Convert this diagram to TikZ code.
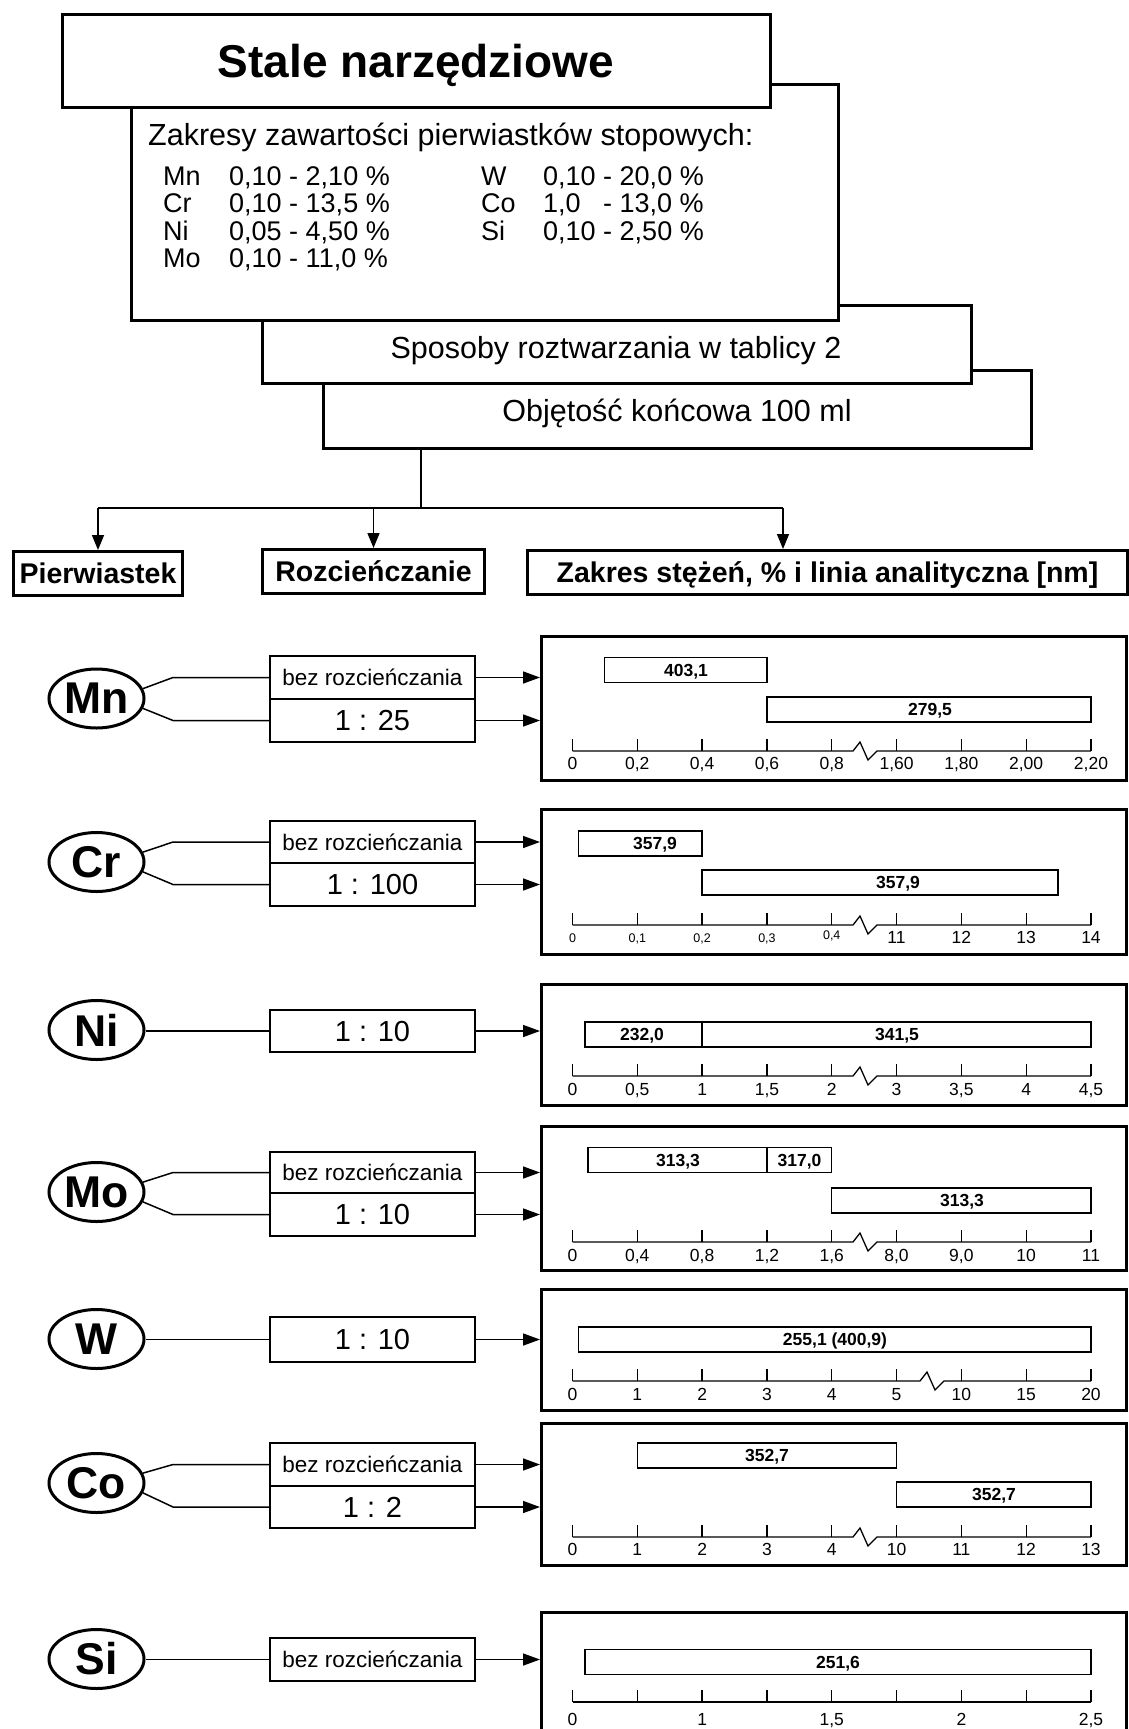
\documentclass[tikz,border=0pt]{standalone}
\usepackage{fontspec}
\setmainfont{Liberation Sans}
\usetikzlibrary{shapes.geometric,arrows.meta}

% font size in pt (1 unit = 1pt in this drawing)
\newcommand\fs[1]{\fontsize{#1}{#1}\selectfont}

% rectangle node given by its corners: style, name, x1, y1, x2, y2, text
\newcommand\rectnode[7]{%
  \node[#1, anchor=north west, minimum width={#5-#3}, minimum height={#6-#4}] (#2) at (#3,#4) {#7};}

% concentration bar: name, x1, x2, centre y, label x, label
\newcommand\rangebar[6]{%
  \draw[barline] (#2,#4-12.5) rectangle (#3,#4+12.5);
  \node[barlabel] (#1) at (#5,#4) {#6};}

% scale with a break mark: axis y, x where the break starts
\newcommand\brokenaxis[2]{%
  \draw[axisline] (572.5,#1) -- (#2,#1) -- ++(7,-9) -- ++(8,18) -- ++(9,-9) -- (1091,#1);
  \foreach \k in {0,...,8} {\draw[axisline] ({572.5+64.81*\k},#1) -- ++(0,-12);}}

% tick labels on all nine ticks: name prefix, baseline y, labels
\newcommand\ticklabels[3]{%
  \foreach \t [count=\i from 0] in {#3} {\node[ticklabel] (#1\i) at ({572.5+64.81*\i},#2) {\t};}}

\begin{document}
\begin{tikzpicture}[x=1pt,y=-1pt,
  every node/.style={inner sep=0pt},
  topbox/.style={draw, line width=2.5pt, fill=white},
  headbox/.style={draw, line width=3pt, font=\fs{28.5}\bfseries, text height=20.5pt, text depth=0pt},
  elem/.style={ellipse, draw, line width=3pt, minimum width=95pt, minimum height=59pt, font=\fs{44.5}\bfseries},
  dilbox/.style={draw, line width=2pt, fill=white},
  dilsmall/.style={dilbox, font=\fs{22.5}, text height=16pt, text depth=0pt},
  dilbig/.style={dilbox, font=\fs{29}, text height=20.8pt, text depth=0pt},
  chartbox/.style={draw, line width=3pt},
  conn/.style={line width=1.5pt},
  arr/.style={line width=1.5pt, -{Triangle[length=17pt,width=12pt]}},
  downarr/.style={line width=1.5pt, -{Triangle[length=15pt,width=12pt]}},
  barline/.style={line width=1.3pt},
  axisline/.style={line width=1.3pt},
  barlabel/.style={font=\fs{17.5}\bfseries, text height=12.5pt, text depth=0pt},
  ticklabel/.style={font=\fs{17.5}, anchor=base},
  ticksmall/.style={font=\fs{12.5}, anchor=base},
  listtext/.style={font=\fs{27}, anchor=base west},
  boxtext/.style={font=\fs{30.5}, anchor=base},
]
\path[use as bounding box, fill=white] (0,0) rectangle (1128,1729);

% ---- stacked header boxes (back to front) ----
\rectnode{topbox}{obj}{322}{369}{1030}{447}{}
\rectnode{topbox}{spo}{261}{304}{970}{382}{}
\rectnode{topbox}{zak}{130}{83}{837}{319}{}
\rectnode{topbox}{tit}{61}{13}{769}{106}{}

\node[font=\fs{46}\bfseries, anchor=base] (titT) at (416,77) {Stale narzędziowe};
\node[font=\fs{30.5}, anchor=base west] (zakT) at (148,145) {Zakresy zawartości pierwiastków stopowych:};
\node[listtext] (lMn) at (163,185) {Mn};
\node[listtext] (vMn) at (229,185) {0,10 - 2,10 \%};
\node[listtext] (lCr) at (163,212.5) {Cr};
\node[listtext] (vCr) at (229,212.5) {0,10 - 13,5 \%};
\node[listtext] (lNi) at (163,240) {Ni};
\node[listtext] (vNi) at (229,240) {0,05 - 4,50 \%};
\node[listtext] (lMo) at (163,267.5) {Mo};
\node[listtext] (vMo) at (229,267.5) {0,10 - 11,0 \%};
\node[listtext] (lW) at (481,185) {W};
\node[listtext] (vW) at (543,185) {0,10 - 20,0 \%};
\node[listtext] (lCo) at (481,212.5) {Co};
\node[listtext] (vCoa) at (543,212.5) {1,0};
\node[listtext] (vCob) at (603,212.5) {- 13,0 \%};
\node[listtext] (lSi) at (481,240) {Si};
\node[listtext] (vSi) at (543,240) {0,10 - 2,50 \%};

\node[boxtext] (spoT) at (616,358) {Sposoby roztwarzania w tablicy 2};
\node[boxtext] (objT) at (677,421) {Objętość końcowa 100 ml};

% ---- column headers ----
\rectnode{headbox}{pierH}{12}{550}{181}{594}{Pierwiastek}
\rectnode{headbox}{rozH}{261}{548}{483}{592}{Rozcieńczanie}
\rectnode{headbox}{zakH}{526}{549}{1126}{593}{Zakres stężeń, \% i linia analityczna [nm]}

\coordinate (hub) at (421,508);
\coordinate (zakTurn) at (783,508);
\draw[conn] (obj.south -| hub) -- (hub);
\draw[conn] (pierH.north |- hub) -- (zakTurn);
\draw[downarr] (pierH.north |- hub) -- (pierH.north);
\draw[downarr] (rozH.north |- hub) -- (rozH.north);
\draw[downarr] (zakTurn) -- (zakTurn |- zakH.north);

% ---- Mn ----
\node[elem] (mn) at (96.5,698.5) {Mn};
\rectnode{dilsmall}{mnA}{269}{655}{474}{698}{bez rozcieńczania}
\rectnode{dilbig}{mnB}{269}{698}{474}{741}{1 : 25}
\rectnode{chartbox}{mnC}{540}{635}{1125}{779}{}
\draw[conn] (mn.12) -- ([xshift=-96pt]mnA.west) -- (mnA.west);
\draw[conn] (mn.-12) -- ([xshift=-96pt]mnB.west) -- (mnB.west);
\draw[arr] (mnA.east) -- (mnA.east -| mnC.west);
\draw[arr] (mnB.east) -- (mnB.east -| mnC.west);
\rangebar{mnR1}{604.6}{767}{670}{686}{403,1}
\rangebar{mnR2}{767}{1091}{709.5}{930}{279,5}
\brokenaxis{751}{853}
\ticklabels{mnT}{769}{0,0{,}2,0{,}4,0{,}6,0{,}8,1{,}60,1{,}80,2{,}00,2{,}20}

% ---- Cr ----
\node[elem] (cr) at (96.5,862) {Cr};
\rectnode{dilsmall}{crA}{269}{820}{474}{862}{bez rozcieńczania}
\rectnode{dilbig}{crB}{269}{862}{474}{905}{1 : 100}
\rectnode{chartbox}{crC}{540}{808}{1125}{953}{}
\draw[conn] (cr.12) -- ([xshift=-96pt]crA.west) -- (crA.west);
\draw[conn] (cr.-12) -- ([xshift=-96pt]crB.west) -- (crB.west);
\draw[arr] (crA.east) -- (crA.east -| crC.west);
\draw[arr] (crB.east) -- (crB.east -| crC.west);
\rangebar{crR1}{578.5}{702.1}{843.5}{655}{357,9}
\rangebar{crR2}{702.1}{1058}{882.5}{898}{357,9}
\brokenaxis{925}{853}
\foreach \t [count=\i from 0] in {0,0{,}1,0{,}2,0{,}3}
  {\node[ticksmall] (crS\i) at ({572.5+64.81*\i},942) {\t};}
\node[ticksmall] (crS4) at ({572.5+64.81*4},939.5) {0,4};
\foreach \t [count=\i from 5] in {11,12,13,14}
  {\node[ticklabel] (crT\i) at ({572.5+64.81*\i},943.5) {\t};}

% ---- Ni ----
\node[elem] (ni) at (96.5,1030) {Ni};
\rectnode{dilbig}{niB}{269}{1009}{474}{1051}{1 : 10}
\rectnode{chartbox}{niC}{540}{983}{1125}{1104}{}
\draw[conn] (niB.west -| ni.east) -- (niB.west);
\draw[arr] (niB.east) -- (niB.east -| niC.west);
\rangebar{niR1}{585}{702.1}{1034.5}{642}{232,0}
\rangebar{niR2}{702.1}{1091}{1034.5}{897}{341,5}
\brokenaxis{1076}{853}
\ticklabels{niT}{1095}{0,0{,}5,1,1{,}5,2,3,3{,}5,4,4{,}5}

% ---- Mo ----
\node[elem] (mo) at (96.5,1192) {Mo};
\rectnode{dilsmall}{moA}{269}{1151}{474}{1192}{bez rozcieńczania}
\rectnode{dilbig}{moB}{269}{1192}{474}{1235}{1 : 10}
\rectnode{chartbox}{moC}{540}{1125}{1125}{1269}{}
\draw[conn] (mo.12) -- ([xshift=-96pt]moA.west) -- (moA.west);
\draw[conn] (mo.-12) -- ([xshift=-96pt]moB.west) -- (moB.west);
\draw[arr] (moA.east) -- (moA.east -| moC.west);
\draw[arr] (moB.east) -- (moB.east -| moC.west);
\rangebar{moR1}{588}{767}{1160}{678}{313,3}
\rangebar{moR2}{767}{831.7}{1160}{799.5}{317,0}
\rangebar{moR3}{831.7}{1091}{1200.5}{962}{313,3}
\brokenaxis{1242}{853}
\ticklabels{moT}{1261}{0,0{,}4,0{,}8,1{,}2,1{,}6,8{,}0,9{,}0,10,11}

% ---- W ----
\node[elem] (w) at (96.5,1339) {W};
\rectnode{dilbig}{wB}{269}{1316}{474}{1361}{1 : 10}
\rectnode{chartbox}{wC}{540}{1288}{1125}{1409}{}
\draw[conn] (wB.west -| w.east) -- (wB.west);
\draw[arr] (wB.east) -- (wB.east -| wC.west);
\rangebar{wR1}{578.5}{1091}{1339.5}{835}{255,1 (400,9)}
\brokenaxis{1381}{920}
\ticklabels{wT}{1400}{0,1,2,3,4,5,10,15,20}

% ---- Co ----
\node[elem] (co) at (96.5,1483) {Co};
\rectnode{dilsmall}{coA}{269}{1442}{474}{1485}{bez rozcieńczania}
\rectnode{dilbig}{coB}{269}{1485}{474}{1527}{1 : 2}
\rectnode{chartbox}{coC}{540}{1422}{1125}{1564}{}
\draw[conn] (co.12) -- ([xshift=-96pt]coA.west) -- (coA.west);
\draw[conn] (co.-12) -- ([xshift=-96pt]coB.west) -- (coB.west);
\draw[arr] (coA.east) -- (coA.east -| coC.west);
\draw[arr] (coB.east) -- (coB.east -| coC.west);
\rangebar{coR1}{637.3}{896.7}{1455.5}{767}{352,7}
\rangebar{coR2}{896.7}{1091}{1494.5}{994}{352,7}
\brokenaxis{1537}{853}
\ticklabels{coT}{1555}{0,1,2,3,4,10,11,12,13}

% ---- Si ----
\node[elem] (si) at (96.5,1659) {Si};
\rectnode{dilsmall}{siA}{269}{1637}{474}{1680}{bez rozcieńczania}
\rectnode{chartbox}{siC}{540}{1611}{1125}{1745}{}
\draw[conn] (siA.west -| si.east) -- (siA.west);
\draw[arr] (siA.east) -- (siA.east -| siC.west);
\rangebar{siR1}{585}{1091}{1662}{838}{251,6}
\draw[axisline] (572.5,1702) -- (1091,1702);
\foreach \k in {0,...,8} {\draw[axisline] ({572.5+64.81*\k},1702) -- ++(0,-12);}
\foreach \t/\k in {0/0,1/2,1{,}5/4,2/6,2{,}5/8}
  {\node[ticklabel] (siT\k) at ({572.5+64.81*\k},1725) {\t};}
\end{tikzpicture}
\end{document}
